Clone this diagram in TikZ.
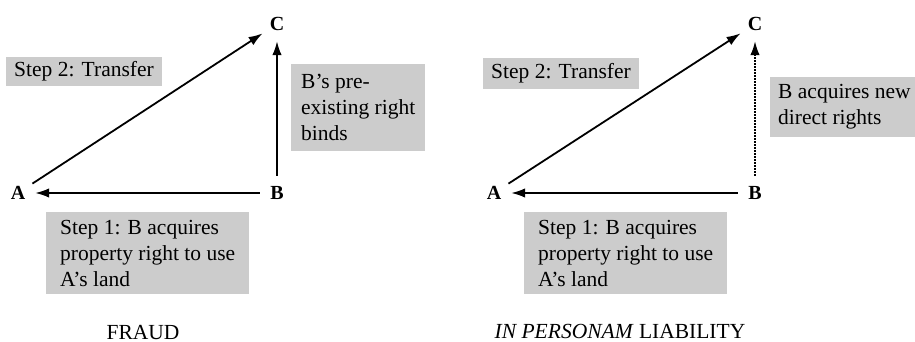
\documentclass[tikz,border=0pt]{standalone}
\usepackage{fontspec}
\setmainfont{Liberation Serif}
\usetikzlibrary{arrows.meta}
\definecolor{boxgray}{RGB}{204,204,204}
\begin{document}
\begin{tikzpicture}[x=1pt,y=-1pt,
  vertex/.style={circle,minimum size=34pt,inner sep=0pt,
    font=\fontsize{20}{24}\selectfont\bfseries,text height=13pt,text depth=0pt},
  note/.style={fill=boxgray,anchor=north west,inner xsep=8pt,inner ysep=0pt,
    align=left,font=\fontsize{21.5}{26}\selectfont},
  caption/.style={font=\fontsize{21.5}{26}\selectfont,anchor=base},
  link/.style={line width=1.8pt,-{Latex[length=14pt,width=9.5pt]}},
  weak/.style={link,dash pattern=on 1.6pt off 1.4pt}
]
\useasboundingbox (0,0) rectangle (915,342);

% ---- fraud ----
\node[note,minimum width=151pt,minimum height=29pt] (s2l) at (6,57) {Step 2: Transfer};
\node[note,minimum width=134pt,minimum height=87pt] (bl) at (291,64) {B’s pre-\\existing right\\binds};
\node[note,minimum width=203pt,minimum height=82pt] (s1l) at (46,212) {Step 1: B acquires\\property right to use\\A’s land};

\node[vertex] (A1) at (18,193) {A};
\node[vertex] (B1) at (277,193) {B};
\node[vertex] (C1) at (277,24) {C};

\draw[link] (A1) -- (C1);
\draw[link] (B1) -- (A1);
\draw[link] (B1) -- (C1);

\node[caption] (capl) at (143,339) {FRAUD};

% ---- in personam liability ----
\node[note,minimum width=152pt,minimum height=31pt] (s2r) at (483,58) {Step 2: Transfer};
\node[note,minimum height=60pt] (br) at (770,77) {B acquires new\\direct rights};
\node[note,minimum width=203pt,minimum height=82pt] (s1r) at (524,212) {Step 1: B acquires\\property right to use\\A’s land};

\node[vertex] (A2) at (494,193) {A};
\node[vertex] (B2) at (755,193) {B};
\node[vertex] (C2) at (755,24) {C};

\draw[link] (A2) -- (C2);
\draw[link] (B2) -- (A2);
\draw[weak] (B2) -- (C2);

\node[caption] (capr) at (620,338) {\textit{IN PERSONAM} LIABILITY};
\end{tikzpicture}
\end{document}
